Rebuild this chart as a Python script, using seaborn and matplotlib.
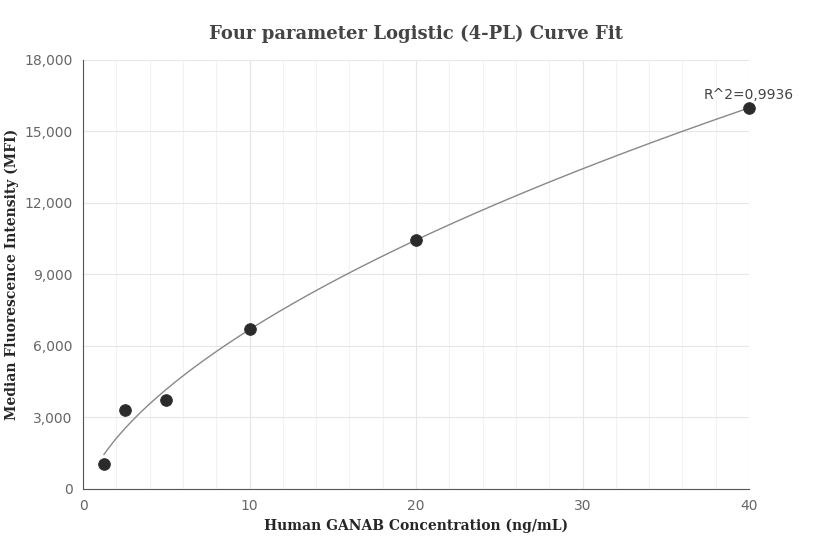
import numpy as np
import pandas as pd
import seaborn as sns
import matplotlib.pyplot as plt
from matplotlib.ticker import FuncFormatter, MultipleLocator

conc = [1.25, 2.5, 5, 10, 20, 40]
mfi = [1050, 3300, 3750, 6700, 10450, 16000]
r2_label = "R^2=0,9936"

df = pd.DataFrame({"conc": conc, "mfi": mfi})

# 4PL fit via grid search on B, C with linear least squares for A, D
x = np.array(conc, float); y = np.array(mfi, float)
best = None
for B in np.linspace(0.3, 2.0, 120):
    for C in np.geomspace(5, 2000, 200):
        g = 1.0 / (1.0 + (x / C) ** B)
        M = np.column_stack([g, 1 - g])
        coef, *_ = np.linalg.lstsq(M, y, rcond=None)
        err = np.sum((M @ coef - y) ** 2)
        if best is None or err < best[0]:
            best = (err, B, C, coef)
_, B, C, (A, D) = best
xs = np.linspace(1.25, 40, 300)
ys = D + (A - D) / (1 + (xs / C) ** B)

sns.set_style("white")
fig = plt.figure(figsize=(8.32, 5.6), dpi=100)
ax = fig.add_axes([0.0998, 0.127, 0.8005, 0.766])
ax.plot(xs, ys, color="#888888", lw=1)
sns.scatterplot(data=df, x="conc", y="mfi", ax=ax, color="#2b2b2b", s=70,
                edgecolor="#2b2b2b", zorder=3, clip_on=False)
ax.set_xlim(0, 40); ax.set_ylim(0, 18000)
ax.xaxis.set_major_locator(MultipleLocator(10)); ax.xaxis.set_minor_locator(MultipleLocator(2))
ax.yaxis.set_major_locator(MultipleLocator(3000))
ax.grid(True, which="major", color="#e6e6e6", lw=0.8)
ax.grid(True, which="minor", axis="x", color="#f2f2f2", lw=0.8)
ax.set_axisbelow(True)
ax.yaxis.set_major_formatter(FuncFormatter(lambda v, p: f"{int(v):,}"))
for s in ["top", "right"]:
    ax.spines[s].set_visible(False)
for s in ["left", "bottom"]:
    ax.spines[s].set_color("#555555")
ax.tick_params(colors="#666666", labelsize=10, length=4)
ax.set_xlabel("Human GANAB Concentration (ng/mL)", family="serif", weight="bold", fontsize=10)
ax.set_ylabel("Median Fluorescence Intensity (MFI)", family="serif", weight="bold", fontsize=10)
fig.suptitle("Four parameter Logistic (4-PL) Curve Fit", family="serif", weight="bold",
             fontsize=13, color="#444444", y=0.955)
ax.annotate(r2_label, (conc[-1], mfi[-1]), xytext=(0, 4), textcoords="offset points",
            ha="center", va="bottom", fontsize=10, color="#444444")
fig.savefig("out.png", dpi=100)
